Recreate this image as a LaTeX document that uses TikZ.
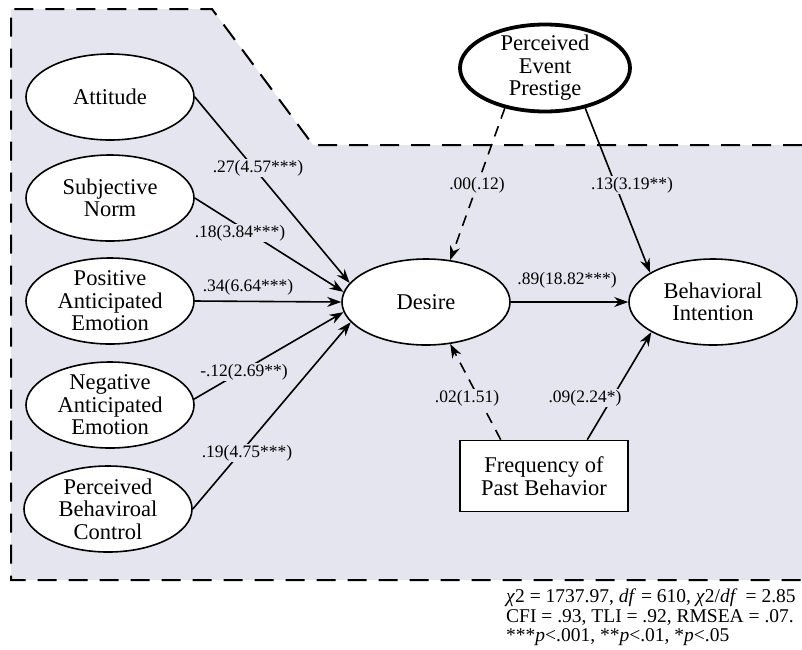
\documentclass[tikz,border=0pt]{standalone}
\usepackage{fontspec}
\setmainfont{Liberation Serif}
\usetikzlibrary{shapes.geometric,arrows.meta}
\definecolor{bgc}{RGB}{229,229,239}
\begin{document}
\begin{tikzpicture}[x=1pt,y=-1pt,
  lat/.style={ellipse, draw, line width=1.6pt, fill=white, minimum width=168pt, minimum height=86pt, inner sep=0pt},
  lattext/.style={align=center, font=\fontsize{22.5}{22.5}\selectfont, inner sep=0pt},
  path/.style={line width=1.6pt, -{Stealth[length=14pt,width=10pt]}},
  dpath/.style={path, dash pattern=on 11pt off 8pt},
  coef/.style={fill=bgc, inner sep=1.5pt, font=\fontsize{17.5}{18}\selectfont}]
\useasboundingbox (0,0) rectangle (802,649);
% shaded region
\fill[bgc] (11,9) -- (212,9) -- (313,145) -- (802,145) -- (802,580) -- (11,580) -- cycle;
\draw[line width=2pt, dash pattern=on 19pt off 12pt] (802,145) -- (313,145) -- (212,9) -- (11,9) -- (11,580) -- (802,580);
% latent nodes
\node[lat, label={[lattext]center:Attitude}] (att) at (110,97) {};
\node[lat, label={[lattext]center:{Subjective\\Norm}}] (sn) at (110,198) {};
\node[lat, label={[lattext]center:{Positive\\Anticipated\\Emotion}}] (pae) at (110,301) {};
\node[lat, label={[lattext]center:{Negative\\Anticipated\\Emotion}}] (nae) at (110,405) {};
\node[lat, label={[lattext]center:{Perceived\\Behaviroal\\Control}}] (pbc) at (108,509) {};
\node[lat, label={[lattext]center:Desire}] (des) at (426,302) {};
\node[lat, label={[lattext]center:{Behavioral\\Intention}}] (bi) at (713,302) {};
\node[lat, line width=3.8pt, minimum width=170pt, minimum height=87pt, label={[lattext]center:{Perceived\\Event\\Prestige}}] (pep) at (545,68) {};
\node[draw, line width=1.6pt, fill=white, minimum width=168pt, minimum height=71pt, inner sep=0pt, align=center, font=\fontsize{22.5}{22.5}\selectfont] (fpb) at (544,476) {Frequency of\\Past Behavior};
% paths
\draw[path] (att.east) -- (des.166);
\draw[path] (sn.east) -- (des.173);
\draw[path] (pae.east) -- (des.west);
\draw[path] (nae.4) -- (des.187);
\draw[path] (pbc.east) -- (des.195);
\draw[dpath] (pep.225) -- (des.60);
\draw[path] (pep.315) -- (bi.155);
\draw[path] (des.east) -- (bi.west);
\draw[dpath] (fpb.140) -- (des.300);
\draw[path] (fpb.40) -- (bi.206);
% coefficients
\node[coef] (c1) at (258,168) {.27(4.57***)};
\node[coef] (c2) at (240,233) {.18(3.84***)};
\node[coef] (c3) at (248,287) {.34(6.64***)};
\node[coef] (c4) at (244,372) {-.12(2.69**)};
\node[coef] (c5) at (247,453) {.19(4.75***)};
\node[coef] (c6) at (477,185) {.00(.12)};
\node[coef] (c7) at (632,185) {.13(3.19**)};
\node[coef] (c8) at (567,280) {.89(18.82***)};
\node[coef] (c9) at (467,398) {.02(1.51)};
\node[coef] (c10) at (585,398) {.09(2.24*)};
% fit statistics
\node[anchor=north west, inner sep=0pt, align=left, font=\fontsize{19.5}{19.5}\selectfont] (fit) at (506,589)
  {\textit{χ}2 = 1737.97, \textit{df} = 610, \textit{χ}2/\textit{df}\, = 2.85\\
   CFI = .93, TLI = .92, RMSEA = .07.\\
   ***\textit{p}<.001, **\textit{p}<.01, *\textit{p}<.05};
\end{tikzpicture}
\end{document}
